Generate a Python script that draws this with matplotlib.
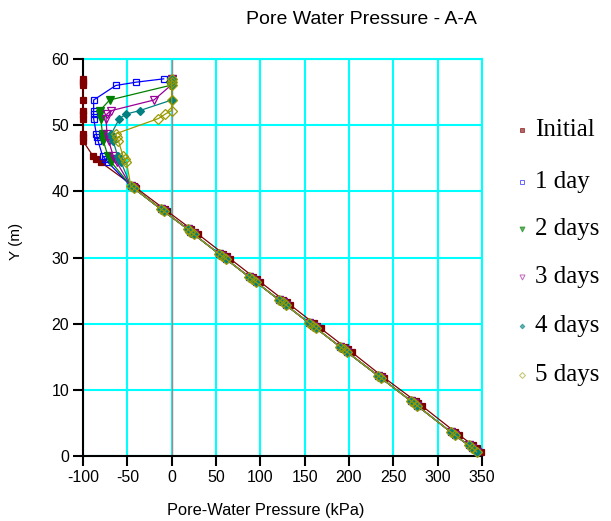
import matplotlib
matplotlib.use('Agg')
import matplotlib.pyplot as plt
from matplotlib.lines import Line2D

plt.rcParams['axes.unicode_minus'] = False

# node elevations (m): upper zone and lower zone
y_top = [57.0, 56.5, 56.0, 53.8, 52.2, 51.7, 51.0, 48.7, 48.2, 47.6, 45.4, 44.9, 44.4]
y_low = [40.8, 40.5, 37.3, 37.0, 34.3, 33.9, 33.5, 30.6, 30.2, 29.8, 27.1, 26.7, 26.3,
         23.6, 23.2, 22.8, 20.1, 19.7, 19.3, 16.5, 16.1, 15.7, 12.1, 11.8, 8.3, 8.0, 7.6,
         3.6, 3.2, 1.6, 1.2, 0.6]

# pore-water pressure (kPa) in the upper zone
p_top_initial = [-100, -100, -100, -100, -100, -100, -100, -100, -100, -100, -89, -85, -80]
p_top_1day = [-9, -40, -63, -88, -88, -88, -88, -85, -84, -83, -78, -75, -72]
p_top_2days = [0, -1, -2, -70, -81, -81, -80, -78, -78, -77, -72, -70, -68]
p_top_3days = [0, 0, -1, -20, -68, -73, -74, -73, -72, -71, -66, -64, -62]
p_top_4days = [0, 0, 0, 0, -36, -51, -59, -68, -67, -66, -61, -59, -57]
p_top_5days = [0, 0, 0, 0, 0, -7, -15, -63, -62, -60, -55, -53, -51]

# lower zone (all transient curves overlap)
p_low_days = [-46, -43, -12, -9, 18, 21, 25, 53, 57, 61, 87, 91, 95, 121, 125, 129,
              155, 159, 163, 190, 194, 198, 233, 236, 270, 273, 277, 315, 319, 335, 339, 344]
p_low_initial = [-43, -40, -8, -5, 22, 26, 30, 58, 62, 66, 92, 96, 100, 126, 130, 134,
                 160, 164, 168, 195, 199, 203, 237, 240, 275, 278, 282, 320, 324, 340, 344, 349]

labels = ['Initial', '1 day', '2 days', '3 days', '4 days', '5 days']
x_ticks = [-100, -50, 0, 50, 100, 150, 200, 250, 300, 350]
y_ticks = [0, 10, 20, 30, 40, 50, 60]

series = [p_top_initial + p_low_initial,
          p_top_1day + p_low_days,
          p_top_2days + p_low_days,
          p_top_3days + p_low_days,
          p_top_4days + p_low_days,
          p_top_5days + p_low_days]
y_all = y_top + y_low

styles = [
    dict(color='#800000', marker='s', mfc='#800000', ms=4.5),
    dict(color='#0000ff', marker='s', mfc='none', ms=5),
    dict(color='#008000', marker='v', mfc='#008000', ms=6),
    dict(color='#990099', marker='v', mfc='none', ms=6),
    dict(color='#008080', marker='D', mfc='#008080', ms=4),
    dict(color='#999900', marker='D', mfc='none', ms=5),
]

fig = plt.figure(figsize=(6.11, 5.21), dpi=100)
ax = fig.add_axes([83 / 611, 1 - 456 / 521, (482 - 83) / 611, (456 - 59) / 521])

for p, st in zip(series, styles):
    ax.plot(p, y_all, lw=0.9, mew=0.9, color=st['color'], marker=st['marker'],
            mfc=st['mfc'], mec=st['color'], ms=st['ms'], clip_on=False, zorder=5)

ax.set_xlim(-100, 350)
ax.set_ylim(0, 60)
ax.set_xticks(x_ticks)
ax.set_yticks(y_ticks)
ax.grid(True, color='#00ffff', lw=1.5, zorder=0)
ax.set_axisbelow(True)
ax.axvline(0.7, color='#909090', lw=1.0, zorder=1)

for s in ['top', 'right']:
    ax.spines[s].set_color('#00ffff')
    ax.spines[s].set_linewidth(1.5)
for s in ['left', 'bottom']:
    ax.spines[s].set_color('black')
    ax.spines[s].set_linewidth(1.5)
    ax.spines[s].set_zorder(3)

ax.tick_params(direction='out', length=7, width=1.5, colors='black',
               labelsize=11.5, pad=3)
for lab in ax.get_xticklabels() + ax.get_yticklabels():
    lab.set_family('Liberation Sans')

fig.text(361 / 611, 1 - 20 / 521, 'Pore Water Pressure - A-A', ha='center', va='center',
         fontsize=14, family='Liberation Sans')
fig.text(266 / 611, 1 - 510 / 521, 'Pore-Water Pressure (kPa)', ha='center', va='center',
         fontsize=11.8, family='Liberation Sans')
fig.text(16 / 611, 1 - 241 / 521, 'Y (m)', ha='center', va='center', rotation=90,
         fontsize=11, family='Liberation Sans')

# legend drawn by hand to match the spacing
leg_y = [130, 182, 229, 277, 326, 375]
for lab, st, yy in zip(labels, styles, leg_y):
    fig.add_artist(Line2D([522 / 611], [1 - yy / 521], transform=fig.transFigure,
                          marker=st['marker'], color=st['color'], mfc=st['mfc'],
                          mec=st['color'], ms=st['ms'] * 0.6, mew=0.7, ls='none', alpha=0.6))
    fig.text(535 / 611, 1 - yy / 521, lab, ha='left', va='center', fontsize=18,
             family='Liberation Serif')

fig.savefig('out.png', dpi=100)
